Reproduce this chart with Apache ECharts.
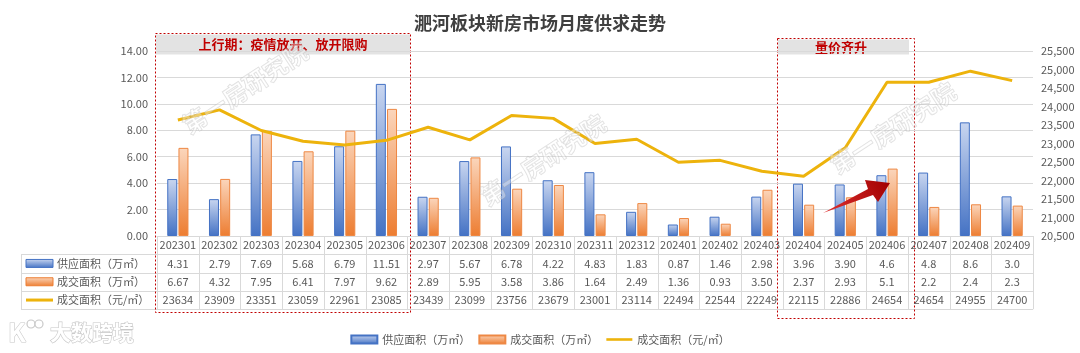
<!DOCTYPE html>
<html>
<head>
<meta charset="utf-8">
<script src="https://cdn.jsdelivr.net/npm/echarts@6/dist/echarts.min.js"></script>
<style>
html,body{margin:0;padding:0;background:#fff;}
#chart{width:1080px;height:353px;}
</style>
</head>
<body>
<div id="chart"></div>
<script>
// data
const months = ['202301','202302','202303','202304','202305','202306','202307','202308','202309','202310','202311','202312',
  '202401','202402','202403','202404','202405','202406','202407','202408','202409'];
const supplyText = ['4.31','2.79','7.69','5.68','6.79','11.51','2.97','5.67','6.78','4.22','4.83','1.83',
  '0.87','1.46','2.98','3.96','3.90','4.6','4.8','8.6','3.0'];
const dealText = ['6.67','4.32','7.95','6.41','7.97','9.62','2.89','5.95','3.58','3.86','1.64','2.49',
  '1.36','0.93','3.50','2.37','2.93','5.1','2.2','2.4','2.3'];
const price = [23634,23909,23351,23059,22961,23085,23439,23099,23756,23679,23001,23114,
  22494,22544,22249,22115,22886,24654,24654,24955,24700];
const seriesNames = ['供应面积（万㎡）','成交面积（万㎡）','成交面积（元/㎡）'];
const title = '淝河板块新房市场月度供求走势';
const note1 = '上行期：疫情放开、放开限购';
const note2 = '量价齐升';
const mark = '第一房研究院';

const FONT = '"Noto Sans CJK SC", "Noto Sans", sans-serif';
const gridL = 157, gridR = 1033, axisY = 236, gridTop = 51, rowH = 18.3;
const colW = (gridR - gridL) / months.length;

function vGrad(top, bottom) {
  return new echarts.graphic.LinearGradient(0, 0, 0, 1, [{offset: 0, color: top}, {offset: 1, color: bottom}]);
}
const blueFill = vGrad('#C9D6F0', '#4472C4');
const orangeFill = vGrad('#FBD6BC', '#ED7D31');
const lineColor = '#EDB30C';
const gridColor = '#D9D9D9';

let chart = echarts.init(document.getElementById('chart'));

// data table borders + row headers
let graphics = [];
let bottomY = axisY + 4 * rowH;
for (let r = 1; r <= 4; r++) {
  let y = Math.round(axisY + r * rowH) + 0.5;
  graphics.push({type: 'line', silent: true, shape: {x1: 21, y1: y, x2: gridR, y2: y}, style: {stroke: gridColor, lineWidth: 1}});
}
for (let i = 0; i <= months.length; i++) {
  let x = Math.round(gridL + i * colW) + 0.5;
  graphics.push({type: 'line', silent: true, shape: {x1: x, y1: axisY, x2: x, y2: bottomY}, style: {stroke: gridColor, lineWidth: 1}});
}
graphics.push({type: 'line', silent: true, shape: {x1: 21.5, y1: axisY + rowH, x2: 21.5, y2: bottomY}, style: {stroke: gridColor, lineWidth: 1}});

for (let r = 0; r < 3; r++) {
  let cy = axisY + (r + 1.5) * rowH;
  if (r < 2) {
    graphics.push({type: 'rect', silent: true, shape: {x: 26, y: cy - 4, width: 27, height: 8},
      style: {fill: r == 0 ? blueFill : orangeFill, stroke: r == 0 ? '#4472C4' : '#ED7D31', lineWidth: 1}});
  } else {
    graphics.push({type: 'line', silent: true, shape: {x1: 26, y1: cy, x2: 53, y2: cy}, style: {stroke: lineColor, lineWidth: 3}});
  }
  graphics.push({type: 'text', silent: true, x: 57, y: cy,
    style: {text: seriesNames[r], fill: '#595959', font: '11px ' + FONT, verticalAlign: 'middle'}});
}

// highlighted periods
graphics.push({type: 'rect', silent: true, shape: {x: 156, y: 34.5, width: 254, height: 20}, style: {fill: '#E3E3E3'}});
graphics.push({type: 'rect', silent: true, shape: {x: 155.5, y: 33.5, width: 255, height: 279}, style: {fill: null, stroke: '#C00000', lineWidth: 1, lineDash: [2, 2]}});
graphics.push({type: 'text', silent: true, x: 283, y: 44.5,
  style: {text: note1, fill: '#C00000', font: 'bold 13px ' + FONT, align: 'center', verticalAlign: 'middle'}});
graphics.push({type: 'rect', silent: true, shape: {x: 778, y: 39.5, width: 131, height: 15}, style: {fill: '#E3E3E3'}});
graphics.push({type: 'rect', silent: true, shape: {x: 777.5, y: 38.5, width: 137, height: 280}, style: {fill: null, stroke: '#C00000', lineWidth: 1, lineDash: [2, 2]}});
graphics.push({type: 'text', silent: true, x: 841, y: 47,
  style: {text: note2, fill: '#C00000', font: 'bold 13px ' + FONT, align: 'center', verticalAlign: 'middle'}});

// arrow
graphics.push({type: 'polygon', silent: true, z: 20,
  shape: {points: [[823, 213], [868, 189], [865, 180], [890, 183], [878, 202], [873, 195]]},
  style: {fill: new echarts.graphic.LinearGradient(0, 1, 1, 0, [{offset: 0, color: '#E03030'}, {offset: 1, color: '#A00000'}])}});

// watermarks
[[245, 88], [543, 160], [893, 128]].forEach(function (p) {
  graphics.push({type: 'text', silent: true, z: 30, x: p[0], y: p[1], rotation: 0.58,
    style: {text: mark, fill: 'rgba(255,255,255,0.35)', stroke: 'rgba(170,170,170,0.4)', lineWidth: 1,
      font: 'bold 24px ' + FONT, align: 'center', verticalAlign: 'middle'}});
});

// logo
graphics.push({type: 'text', silent: true, x: 8, y: 332,
  style: {text: 'K', fill: '#fff', stroke: '#C8C8C8', lineWidth: 1.2, font: 'bold 26px ' + FONT, verticalAlign: 'middle'}});
graphics.push({type: 'circle', silent: true, shape: {cx: 31, cy: 324, r: 4}, style: {fill: '#fff', stroke: '#C8C8C8', lineWidth: 1.2}});
graphics.push({type: 'circle', silent: true, shape: {cx: 39, cy: 324, r: 4}, style: {fill: '#fff', stroke: '#C8C8C8', lineWidth: 1.2}});
graphics.push({type: 'text', silent: true, x: 50, y: 332,
  style: {text: '大数跨境', fill: '#fff', stroke: '#C8C8C8', lineWidth: 1.2, font: 'bold 21px ' + FONT, verticalAlign: 'middle'}});

let option = {
  animation: false,
  textStyle: {fontFamily: FONT},
  title: {
    text: title, left: 'center', top: 9,
    textStyle: {fontSize: 18, fontWeight: 'bold', color: '#404040', fontFamily: FONT}
  },
  grid: {left: gridL, right: 1080 - gridR, top: gridTop, bottom: 353 - axisY},
  legend: {
    top: 329, left: 'center', itemWidth: 26, itemHeight: 8, itemGap: 8,
    textStyle: {color: '#595959', fontSize: 11, fontFamily: FONT},
    data: [
      {name: seriesNames[0], icon: 'rect'},
      {name: seriesNames[1], icon: 'rect'},
      {name: seriesNames[2], icon: 'path://M0,0 H30 V3 H0 Z', itemStyle: {color: lineColor}}
    ]
  },
  xAxis: {
    type: 'category', data: months,
    axisLine: {lineStyle: {color: gridColor}},
    axisTick: {show: false},
    axisLabel: {
      interval: 0, margin: 0, color: '#595959', fontSize: 11, lineHeight: rowH, hideOverlap: false,
      formatter: function (v, i) {
        return v + '\n' + supplyText[i] + '\n' + dealText[i] + '\n' + price[i];
      }
    }
  },
  yAxis: [
    {
      type: 'value', min: 0, max: 14, interval: 2,
      axisLine: {show: false}, axisTick: {show: false},
      axisLabel: {color: '#595959', fontSize: 11, margin: 9, formatter: function (v) { return v.toFixed(2); }},
      splitLine: {lineStyle: {color: gridColor}}
    },
    {
      type: 'value', min: 20500, max: 25500, interval: 500,
      axisLine: {show: false}, axisTick: {show: false},
      axisLabel: {color: '#595959', fontSize: 11, margin: 8},
      splitLine: {show: false}
    }
  ],
  series: [
    {
      name: seriesNames[0], type: 'bar', data: supplyText.map(Number),
      barWidth: 10, barGap: '12%',
      itemStyle: {color: blueFill, borderColor: '#4472C4', borderWidth: 1}
    },
    {
      name: seriesNames[1], type: 'bar', data: dealText.map(Number),
      barWidth: 10,
      itemStyle: {color: orangeFill, borderColor: '#EE8844', borderWidth: 1}
    },
    {
      name: seriesNames[2], type: 'line', yAxisIndex: 1, data: price,
      symbol: 'none', z: 5,
      lineStyle: {color: lineColor, width: 3},
      itemStyle: {color: lineColor}
    }
  ],
  graphic: graphics
};
chart.setOption(option);
</script>
</body>
</html>
